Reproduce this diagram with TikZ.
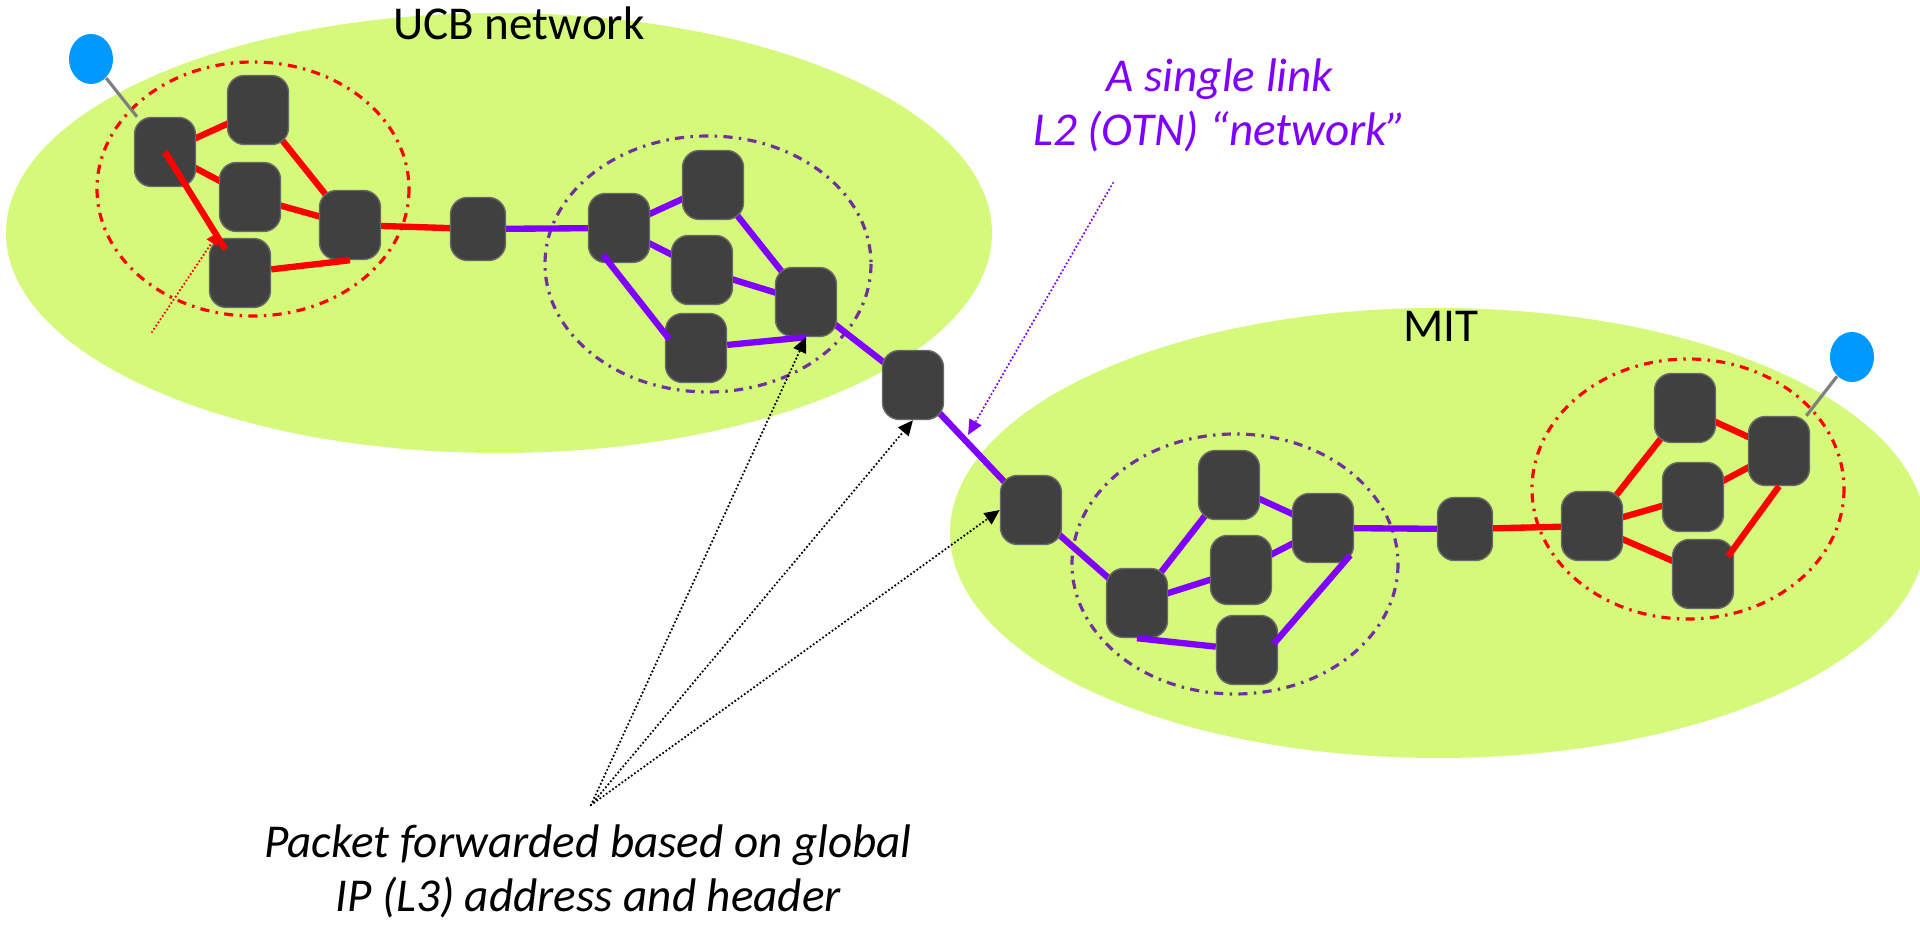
\documentclass[tikz,border=0pt]{standalone}
\usepackage{fontspec}
\setmainfont{Carlito}
\usetikzlibrary{arrows.meta,shapes.geometric}

\definecolor{zonegreen}{RGB}{213,249,122}
\definecolor{boxgray}{RGB}{64,64,64}
\definecolor{boxedge}{RGB}{105,105,105}
\definecolor{hostblue}{RGB}{0,153,255}
\definecolor{linkviolet}{RGB}{128,0,255}
\definecolor{ringpurple}{RGB}{112,48,160}
\definecolor{wiregray}{RGB}{127,127,127}

\pgfdeclarelayer{zone}
\pgfdeclarelayer{wire}
\pgfsetlayers{zone,wire,main}

\tikzset{
  router/.style={fill=boxgray, draw=boxedge, line width=0.4pt, rounded corners=0.17cm,
                 minimum width=0.61cm, minimum height=0.69cm, inner sep=0pt},
  hop/.style={router, minimum width=0.55cm, minimum height=0.63cm},
  host/.style={ellipse, fill=hostblue, minimum width=0.44cm, minimum height=0.5cm, inner sep=0pt},
  redlink/.style={red, line width=1.8pt},
  vlink/.style={linkviolet, line width=1.8pt},
  ring/.style={line width=0.9pt, dash pattern=on 2.6pt off 1.8pt on 0.7pt off 1.8pt},
  hint/.style={line width=0.7pt, line cap=round, dash pattern=on 0pt off 1.1pt,
               -{Triangle[length=4.3pt,width=3.8pt]}},
  txt/.style={font=\fontsize{13.4pt}{15.4pt}\selectfont, inner sep=0pt},
  note/.style={txt, font=\fontsize{13.4pt}{15.4pt}\selectfont\itshape, align=center},
}

\begin{document}
\begin{tikzpicture}[x=0.01cm, y=-0.01cm]
\useasboundingbox (0,0) rectangle (1920,931);

% the two campus networks and their sub-clusters
\begin{pgfonlayer}{zone}
\fill[zonegreen] (499,233) ellipse [x radius=493, y radius=220];
\fill[zonegreen] (1438,533) ellipse [x radius=488, y radius=225];
\draw[ring, red] (253,189) ellipse [x radius=156, y radius=127];
\draw[ring, ringpurple] (708,264) ellipse [x radius=163, y radius=128];
\draw[ring, ringpurple] (1235,564) ellipse [x radius=163, y radius=130];
\draw[ring, red] (1688,489) ellipse [x radius=156, y radius=130];
\end{pgfonlayer}

% routers
\foreach \n/\x/\y in {a1/165/152, a2/258/110, a3/250/197, a4/240/273, a5/350/225,
                      b1/619/228, b2/713/185, b3/702/270, b4/696/348, b5/806/302,
                      s2/913/385,
                      c1/1031/510, c2/1229/485, c3/1323/528, c4/1241/570, c5/1137/603, c6/1247/650,
                      d1/1592/526, d2/1685/408, d3/1693/497, d4/1703/574, d5/1779/451}
  \node[router] (\n) at (\x,\y) {};
\node[hop] (s1) at (478,229) {};
\node[hop] (s3) at (1465,529) {};
\node[host] (h1) at (91,59) {};
\node[host] (h2) at (1852,357) {};

% links behind the routers
\begin{pgfonlayer}{wire}
\foreach \u/\v in {a1/a2, a1/a3, a2/a5, a3/a5, a5/s1, s3/d1, d1/d2, d1/d3, d1/d4, d2/d5, d3/d5}
  \draw[redlink] (\u.center) -- (\v.center);
\foreach \u/\v in {s1/b1, b1/b2, b1/b3, b2/b5, b3/b5, b5/s2, s2/c1,
                   c1/c5, c5/c2, c2/c3, c5/c4, c4/c3, c3/s3}
  \draw[vlink] (\u.center) -- (\v.center);
\draw[wiregray, line width=0.9pt] (h1) -- (a1);
\draw[wiregray, line width=0.9pt] (h2) -- (d5);
\end{pgfonlayer}

% links drawn over the routers
\draw[redlink, shorten >=8pt] (a1.center) -- (a4.center);
\draw[redlink] (a4) -- (a5.south);
\draw[vlink, shorten <=-3pt, shorten >=-2pt] (b1.255) -- (b4.155);
\draw[vlink] (b4) -- (b5.south);
\draw[vlink] (c5.south) -- (c6);
\draw[vlink, shorten <=-3pt, shorten >=-2pt] (c3.300) -- (c6.20);
\draw[redlink, shorten >=-3pt] (d5.south) -- (d4.40);

% labels
\node[txt, anchor=base] (ucb) at (519,40) {UCB network};
\node[txt, anchor=base] (mit) at (1441,342) {MIT};
\node[note, text=linkviolet, anchor=north] (otn) at (1220,58) {A single link\\L2 (OTN) “network”};
\node[note, anchor=north] (fwd) at (588,824) {Packet forwarded based on global\\IP (L3) address and header};

% pointers
\coordinate (src) at (591,805);
\draw[hint] (src) -- (b5.south);
\draw[hint] (src) -- (s2.south);
\draw[hint] (src) -- (c1.west);
\coordinate (otntail) at (1113,183);
\coordinate (otntip) at (968,435);
\draw[hint, linkviolet] (otntail) -- (otntip);
\coordinate (redtail) at (152,332);
\draw[hint, red, -{Triangle[length=3.6pt,width=3.4pt]}] (redtail) -- (a3.south west);
\end{tikzpicture}
\end{document}
